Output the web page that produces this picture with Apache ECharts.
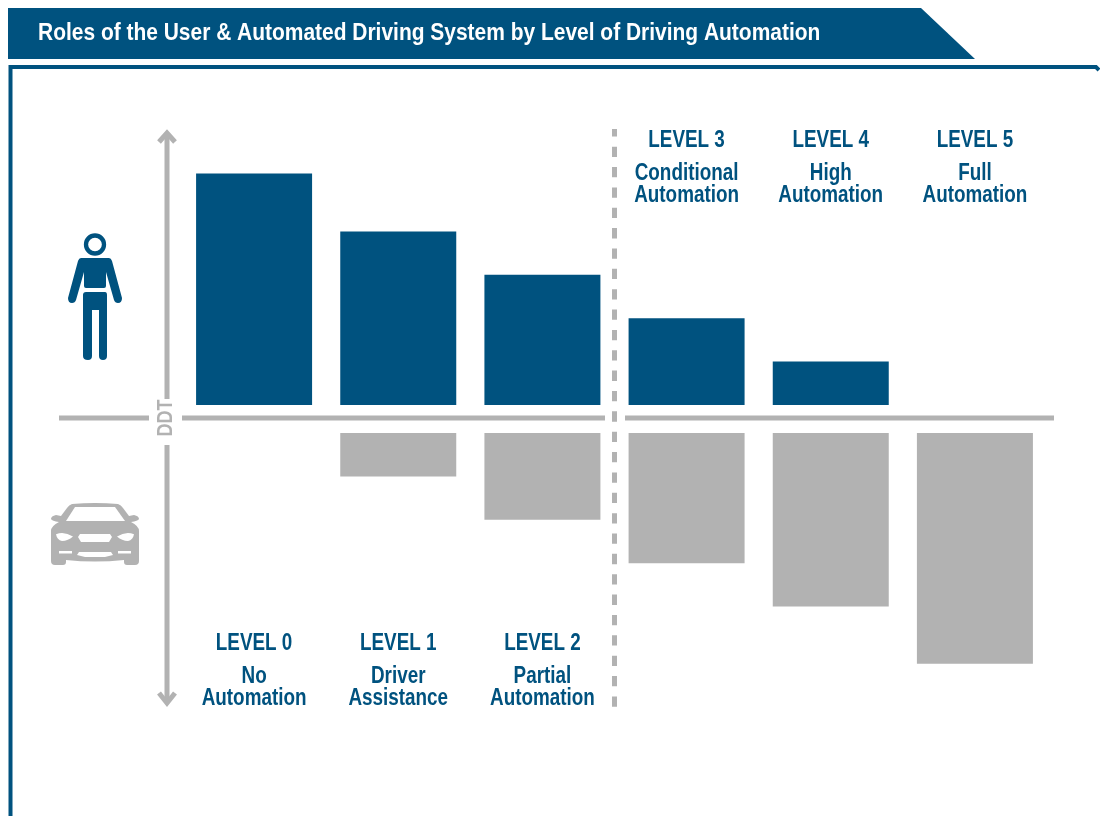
<!DOCTYPE html>
<html>
<head>
<meta charset="utf-8">
<title>Roles of the User & Automated Driving System</title>
<script src="https://cdn.jsdelivr.net/npm/echarts@6/dist/echarts.min.js"></script>
<style>
  html, body { margin: 0; padding: 0; background: #fff; }
  #chart { width: 1100px; height: 816px; }
</style>
</head>
<body>
<div id="chart"></div>
<script>
var titleText = "Roles of the User & Automated Driving System by Level of Driving Automation";
var levels = ["LEVEL 0", "LEVEL 1", "LEVEL 2", "LEVEL 3", "LEVEL 4", "LEVEL 5"];
var levelNames = [["No", "Automation"], ["Driver", "Assistance"], ["Partial", "Automation"], ["Conditional", "Automation"], ["High", "Automation"], ["Full", "Automation"]];
// role size in the DDT, in arbitrary steps (no scale is printed on the picture)
var userShare = [5.34, 4, 3, 2, 1, 0];
var systemShare = [0, 1, 2, 3, 4, 5.32];
var bottomLabelled = [0, 1, 2];
var topLabelled = [3, 4, 5];

var BLUE = "#00527f";
var GREY = "#b2b2b2";
var FONT = '"Liberation Sans", Arial, sans-serif';
var NARROW = 0.82; // the original face is condensed, Liberation Sans gets squeezed

var chart = echarts.init(document.getElementById("chart"));

function narrowText(x, y, text, size, color) {
  return {
    type: "text", x: x, y: y, scaleX: NARROW,
    style: { text: text, x: 0, y: 0, fill: color, fontFamily: FONT, fontWeight: "bold", fontSize: size, align: "center", verticalAlign: "middle" }
  };
}

// level captions follow the category axis, only the rows are fixed
function captionRenderer(rowY) {
  return function (params, api) {
    var i = api.value(0);
    var x = api.coord([i, 0])[0];
    return {
      type: "group",
      children: [
        narrowText(x, rowY[0], levels[i], 23, BLUE),
        narrowText(x, rowY[1], levelNames[i][0], 23, BLUE),
        narrowText(x, rowY[2], levelNames[i][1], 23, BLUE)
      ]
    };
  };
}

function iconPath(d, x, y, w, h, fill) {
  return { type: "path", shape: { pathData: d, layout: "cover", x: x, y: y, width: w, height: h }, style: { fill: fill } };
}

function renderIcons() {
  return {
    type: "group",
    children: [
      // person
      { type: "circle", shape: { cx: 95, cy: 244.5, r: 9 }, style: { fill: "#fff", stroke: BLUE, lineWidth: 4.3 } },
      iconPath("M81 258 L109 258 Q111 258 112 261 L122 298 Q122 303 118 303 Q115 303 114 300 L106 272 L106 286 Q106 288 104 288 L86 288 Q84 288 84 286 L84 272 L76 300 Q75 303 72 303 Q68 303 68 298 L78 261 Q79 258 81 258 Z", 68, 258, 54, 45, BLUE),
      iconPath("M86 292 L105 292 Q107 292 107 295 L107 356 Q107 360 103 360 Q99 360 99 356 L99 310 L92 310 L92 356 Q92 360 88 360 Q83 360 83 356 L83 295 Q83 292 86 292 Z", 83, 292, 24, 68, BLUE),
      // car
      iconPath("M72 504 Q95 502 118 504 Q121 505 123 508 L129 516 L134 515 Q139 516 139 519 Q138 521 131 522 Q139 526 139 531 L139 561 Q139 565 135 565 L127 565 Q124 565 124 562 L124 560 Q95 563 66 560 L66 562 Q66 565 63 565 L55 565 Q51 565 51 561 L51 531 Q51 526 59 522 Q52 521 51 519 Q51 516 56 515 L61 516 L67 508 Q69 505 72 504 Z", 51, 503, 88, 62, GREY),
      iconPath("M75 507 L115 507 L125 521 L66 521 Z", 66, 507, 59, 14, "#fff"),
      iconPath("M56 535 Q64 532 73 537 Q68 541 62 541 Q57 540 56 535 Z", 56, 533, 17, 8, "#fff"),
      iconPath("M117 537 Q126 532 134 535 Q133 540 128 541 Q122 541 117 537 Z", 117, 533, 17, 8, "#fff"),
      iconPath("M80 534 L110 534 L112 537 L109 542 L81 542 L78 537 Z", 78, 534, 34, 8, "#fff"),
      iconPath("M59 551 L72 551 L72 553 L59 553 Z", 59, 551, 13, 2.5, "#fff"),
      iconPath("M118 551 L131 551 L131 553 L118 553 Z", 118, 551, 13, 2.5, "#fff"),
      iconPath("M79 552 L111 552 L113 555 L105 557 L85 557 L77 555 Z", 77, 552, 36, 5, "#fff")
    ]
  };
}

function line(x1, y1, x2, y2, extra) {
  return {
    type: "line",
    shape: { x1: x1, y1: y1, x2: x2, y2: y2 },
    style: Object.assign({ stroke: GREY, lineWidth: 5 }, extra || {})
  };
}
function chevron(pts) {
  return { type: "polyline", shape: { points: pts }, style: { stroke: GREY, lineWidth: 5, fill: null } };
}

var graphics = [
  // banner and frame
  { type: "polygon", shape: { points: [[8, 8], [921, 8], [975, 59], [8, 59]] }, style: { fill: BLUE } },
  { type: "polyline", shape: { points: [[10.5, 816], [10.5, 67], [1096, 67], [1099, 70]] }, style: { stroke: BLUE, lineWidth: 4, fill: null } },
  {
    type: "text", x: 38, y: 33, scaleX: 0.873,
    style: { text: titleText, fill: "#fff", fontFamily: FONT, fontWeight: "bold", fontSize: 24, align: "left", verticalAlign: "middle" }
  },
  // DDT axes
  line(59, 418, 149, 418),
  line(182, 418, 605, 418),
  line(625, 418, 1054, 418),
  line(167, 133, 167, 399),
  line(167, 445, 167, 703),
  chevron([[159, 142], [167, 133], [175, 142]]),
  chevron([[159, 693], [167, 703], [175, 693]]),
  line(614.5, 129, 614.5, 707, { lineDash: [10.3, 10.06], lineDashOffset: 2.7 }),
  {
    type: "text", x: 166, y: 418, rotation: Math.PI / 2, scaleX: NARROW,
    style: { text: "DDT", fill: GREY, fontFamily: FONT, fontWeight: "bold", fontSize: 22, align: "center", verticalAlign: "middle" }
  }
];

chart.setOption({
  animation: false,
  backgroundColor: "#fff",
  graphic: graphics,
  grid: [
    { left: 182, width: 865, top: 130, height: 275 },
    { left: 182, width: 865, top: 433, height: 275 }
  ],
  xAxis: [
    { gridIndex: 0, type: "category", data: levels, show: false },
    { gridIndex: 1, type: "category", data: levels, show: false }
  ],
  yAxis: [
    { gridIndex: 0, type: "value", min: 0, max: 6.34, show: false },
    { gridIndex: 1, type: "value", min: 0, max: 6.34, inverse: true, show: false }
  ],
  series: [
    { name: "User", type: "bar", xAxisIndex: 0, yAxisIndex: 0, barWidth: 116, data: userShare, itemStyle: { color: BLUE } },
    { name: "Automated Driving System", type: "bar", xAxisIndex: 1, yAxisIndex: 1, barWidth: 116, data: systemShare, itemStyle: { color: GREY } },
    { name: "Upper captions", type: "custom", xAxisIndex: 0, yAxisIndex: 0, encode: { x: 0 }, data: topLabelled.map(function (i) { return [i]; }), renderItem: captionRenderer([141, 174, 196]) },
    { name: "Lower captions", type: "custom", xAxisIndex: 1, yAxisIndex: 1, encode: { x: 0 }, data: bottomLabelled.map(function (i) { return [i]; }), renderItem: captionRenderer([644, 677, 699]) },
    { name: "Icons", type: "custom", coordinateSystem: "none", data: [0], renderItem: renderIcons }
  ]
});
</script>
</body>
</html>
